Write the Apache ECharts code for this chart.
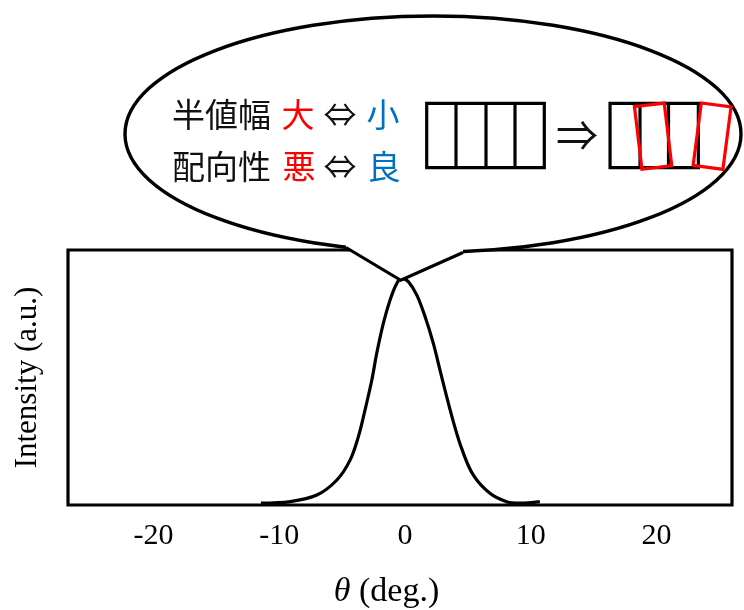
<!DOCTYPE html>
<html>
<head>
<meta charset="utf-8">
<script src="https://cdn.jsdelivr.net/npm/echarts@6/dist/echarts.min.js"></script>
<style>
  html, body { margin: 0; padding: 0; background: #fff; }
  #chart { width: 744px; height: 610px; }
</style>
</head>
<body>
<div id="chart"></div>
<script>
// Rocking-curve profile: diffraction angle (deg.) and relative intensity
const thetaDeg = [-11.46, -9.13, -7.01, -5.42, -4.37, -3.71, -3.18, -2.64, -2.25, -1.72, -1.19, -0.66, -0.26,
                  0.26, 0.93, 1.59, 2.25, 2.78, 3.31, 3.84, 4.50, 5.42, 6.75, 8.08, 9.13, 10.72];
const intensity = [0.007, 0.013, 0.039, 0.098, 0.176, 0.268, 0.373, 0.490, 0.595, 0.713, 0.804, 0.869, 0.889,
                   0.876, 0.824, 0.739, 0.634, 0.529, 0.425, 0.327, 0.222, 0.118, 0.046, 0.013, 0.007, 0.013];
const tickValues = [-20, -10, 0, 10, 20];

const serif = '"Liberation Serif", "Times New Roman", serif';
const jp = '"Noto Sans CJK JP", sans-serif';

const chart = echarts.init(document.getElementById('chart'), null, { renderer: 'canvas' });

const option = {
  animation: false,
  backgroundColor: '#fff',
  grid: {
    left: 68, right: 12, top: 250, bottom: 105,
    show: true, borderColor: '#000', borderWidth: 3.2, backgroundColor: 'transparent',
    outerBoundsMode: 'none'
  },
  xAxis: {
    type: 'value',
    min: -26.8, max: 26,
    axisLine: { show: false },
    axisTick: { show: false },
    splitLine: { show: false },
    axisLabel: {
      customValues: tickValues,
      color: '#000', fontFamily: serif, fontSize: 30, margin: 16
    },
    name: '{i|θ} (deg.)',
    nameLocation: 'middle',
    nameGap: 70,
    nameTextStyle: {
      color: '#000', fontFamily: serif, fontSize: 34, padding: [0, 27, 0, 0],
      rich: { i: { fontStyle: 'italic', fontFamily: serif, fontSize: 34, color: '#000' } }
    }
  },
  yAxis: {
    type: 'value',
    min: 0, max: 1,
    axisLine: { show: false },
    axisTick: { show: false },
    axisLabel: { show: false },
    splitLine: { show: false },
    name: 'Intensity (a.u.)',
    nameLocation: 'middle',
    nameGap: 25,
    nameTextStyle: { color: '#000', fontFamily: serif, fontSize: 31 }
  },
  series: [{
    type: 'line',
    data: thetaDeg.map((t, i) => [t, intensity[i]]),
    smooth: 0.35,
    showSymbol: false,
    lineStyle: { color: '#000', width: 3.2 },
    z: 3
  }]
};
chart.setOption(option);

// Callout bubble pointing at the peak of the profile
const peakIdx = intensity.indexOf(Math.max(...intensity));
const tip = chart.convertToPixel({ gridIndex: 0 }, [thetaDeg[peakIdx], intensity[peakIdx]]);
const tipX = tip[0] - 1, tipY = tip[1] + 2;

const bubble = { cx: 433, cy: 134, rx: 308, ry: 118 };
const tailL = [346, 247.5], tailR = [463, 252.5];

function txt(text, x, y, color, size, font) {
  return {
    type: 'text', x: x, y: y, z: 120,
    style: {
      text: text, fill: color, fontSize: size, fontFamily: font || jp,
      align: 'center', verticalAlign: 'middle'
    }
  };
}
function box(x, y, w, h, color, rot) {
  return {
    type: 'rect', x: x, y: y, rotation: rot || 0, z: 115,
    shape: { x: -w / 2, y: -h / 2, width: w, height: h },
    style: { fill: 'none', stroke: color, lineWidth: 3.2 }
  };
}
function vline(x, y1, y2) {
  return {
    type: 'line', z: 115,
    shape: { x1: x, y1: y1, x2: x, y2: y2 },
    style: { stroke: '#000', lineWidth: 3.2 }
  };
}

const red = '#ff0000', blue = '#0070c0', ink = '#111';
const cellTop = 103.3, cellBot = 167.7, cellH = cellBot - cellTop, cellMid = (cellTop + cellBot) / 2;

chart.setOption({
  graphic: [
    { type: 'ellipse', z: 100, shape: bubble, style: { fill: '#fff', stroke: '#000', lineWidth: 3.4 } },
    { type: 'polygon', z: 101,
      shape: { points: [[tailL[0], 238], tailL, [tipX, tipY], tailR, [tailR[0], 238]] },
      style: { fill: '#fff', stroke: 'none' } },
    { type: 'polyline', z: 102,
      shape: { points: [tailL, [tipX, tipY], tailR] },
      style: { stroke: '#000', lineWidth: 3.2, fill: 'none', lineJoin: 'miter' } },

    txt('半値幅', 221.5, 114, ink, 33),
    txt('大', 298, 114, red, 33),
    txt('⇔', 340, 114, ink, 33),
    txt('小', 383, 114, blue, 33),
    txt('配向性', 221.5, 166, ink, 33),
    txt('悪', 299, 166, red, 33),
    txt('⇔', 340, 166, ink, 33),
    txt('良', 384, 166, blue, 33),
    txt('⇒', 577, 135, ink, 42),

    // aligned grains
    box(485.5, cellMid, 117.6, cellH, '#000'),
    vline(456, cellTop, cellBot),
    vline(486, cellTop, cellBot),
    vline(515, cellTop, cellBot),

    // misaligned grains
    box(654.2, cellMid, 88.3, cellH, '#000'),
    vline(640, cellTop, cellBot),
    vline(668.5, cellTop, cellBot),
    box(653.1, 136.2, 30, 63, red, 0.12),
    box(712.1, 136.2, 30, 63, red, -0.13)
  ]
});
</script>
</body>
</html>
